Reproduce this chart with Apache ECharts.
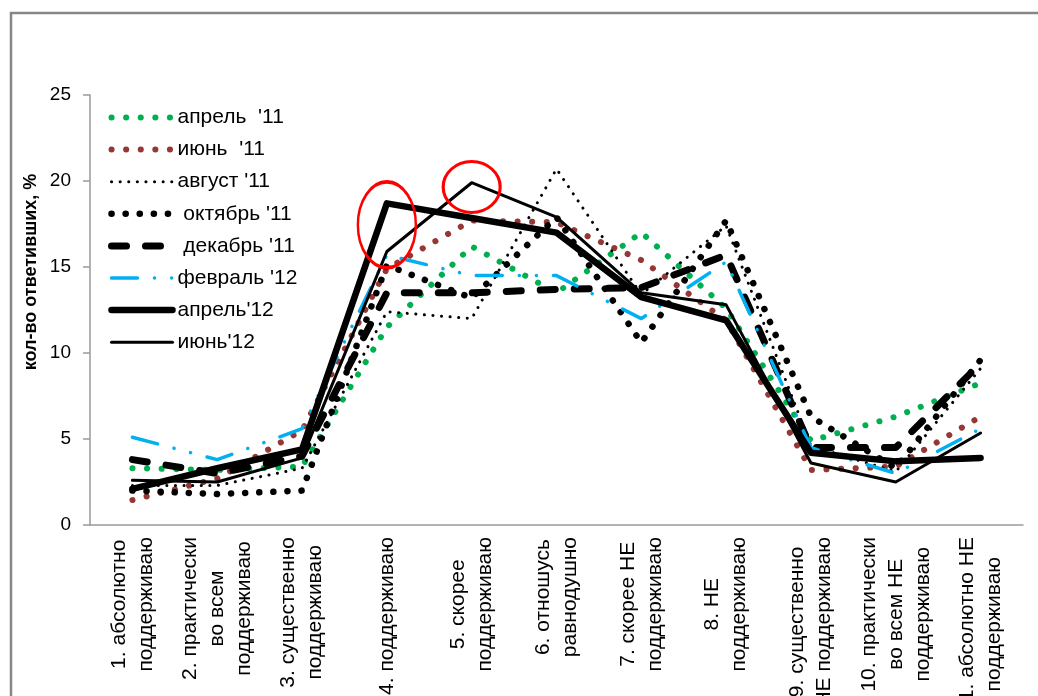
<!DOCTYPE html>
<html>
<head>
<meta charset="utf-8">
<script src="https://cdn.jsdelivr.net/npm/echarts@6/dist/echarts.min.js"></script>
<style>
html,body{margin:0;padding:0;background:#fff;}
#chart{width:1038px;height:696px;}
</style>
</head>
<body>
<div id="chart"></div>
<script>
// ---- data ----
var categories = [
  '1. абсолютно\nподдерживаю',
  '2. практически\nво всем\nподдерживаю',
  '3. существенно\nподдерживаю',
  '4. поддерживаю',
  '5. скорее\nподдерживаю',
  '6. отношусь\nравнодушно',
  '7. скорее НЕ\nподдерживаю',
  '8. НЕ\nподдерживаю',
  '9. существенно\nНЕ поддерживаю',
  '10. практически\nво всем НЕ\nподдерживаю',
  '11. абсолютно НЕ\nподдерживаю'
];
var seriesNames = ["апрель  '11", "июнь  '11", "август '11", " октябрь '11", " декабрь '11", "февраль '12", "апрель'12", "июнь'12"];
var apr11 = [3.3, 3.2, 3.4, 11.5, 16.2, 13.5, 17.0, 12.6, 4.9, 6.3, 8.25];
var jun11 = [1.45, 2.7, 5.5, 14.9, 17.7, 17.6, 15.4, 11.9, 3.2, 3.4, 6.3];
var aug11 = [2.3, 2.3, 3.3, 12.4, 12.0, 20.7, 13.4, 17.4, 4.6, 3.1, 9.1];
var oct11 = [2.0, 1.8, 2.0, 15.1, 13.2, 17.9, 10.6, 17.7, 6.3, 3.3, 9.6];
var dec11 = [3.8, 3.0, 4.0, 13.5, 13.5, 13.7, 13.8, 15.7, 4.5, 4.5, 9.4];
var feb12 = [5.1, 3.8, 5.6, 15.7, 14.5, 14.5, 12.0, 15.3, 4.5, 3.0, 5.6];
var apr12 = [2.1, 3.3, 4.4, 18.7, 17.85, 17.0, 13.25, 11.9, 4.2, 3.7, 3.9];
var jun12 = [2.6, 2.5, 3.9, 15.9, 19.9, 17.9, 13.5, 12.8, 3.6, 2.5, 5.35];
var yTicks = [0, 5, 10, 15, 20, 25];
var yAxisTitle = 'кол-во ответивших, %';
// highlighted points (category index, value) for red ellipses
var highlightApr12 = [3, 17.45];
var highlightJun12 = [4, 19.65];

var FONT = '"Liberation Sans", Arial, sans-serif';

// line styles: [color, width, dash]
var styles = [
  ['#00B050', 6, [0.1, 14.5]],
  ['#953735', 6, [0.1, 14.5]],
  ['#000000', 3, [0.1, 8.5]],
  ['#000000', 6.5, [0.1, 14]],
  ['#000000', 7, [15, 19]],
  ['#00B0F0', 3.5, [26, 17, 0.1, 17, 0.1, 17]],
  ['#000000', 6.5, 'solid'],
  ['#000000', 3, 'solid']
];
var datasets = [apr11, jun11, aug11, oct11, dec11, feb12, apr12, jun12];

function ls(i) {
  return { color: styles[i][0], width: styles[i][1], type: styles[i][2], cap: 'round', join: 'round', opacity: 1 };
}
function ellipse(coord, size) {
  return {
    silent: true, symbol: 'circle', animation: false,
    label: { show: false },
    data: [{ coord: coord, symbolSize: size,
      itemStyle: { color: 'rgba(0,0,0,0)', borderColor: '#FF0000', borderWidth: 3 } }]
  };
}

var series = seriesNames.map(function (name, i) {
  return {
    name: name, type: 'line', data: datasets[i], symbol: 'none', animation: false,
    lineStyle: ls(i),
    itemStyle: { color: styles[i][0] },
    emphasis: { disabled: true }
  };
});
series[6].markPoint = ellipse(highlightApr12, [58, 86]);
series[7].markPoint = ellipse(highlightJun12, [57, 51]);

var legendData = seriesNames.map(function (name, i) {
  return {
    name: name,
    lineStyle: ls(i),
    itemStyle: { color: 'rgba(0,0,0,0)', borderColor: 'rgba(0,0,0,0)', borderWidth: 0 }
  };
});

var chart = echarts.init(document.getElementById('chart'), null, { renderer: 'canvas' });
chart.setOption({
  backgroundColor: '#ffffff',
  animation: false,
  textStyle: { fontFamily: FONT },
  grid: { left: 90, right: 15, top: 95, bottom: 171, containLabel: false, outerBoundsMode: 'none' },
  legend: {
    data: legendData,
    orient: 'vertical',
    left: 108, top: 107, padding: 0,
    itemWidth: 61, itemHeight: 20, itemGap: 11.1,
    itemStyle: { color: 'rgba(0,0,0,0)', borderColor: 'rgba(0,0,0,0)', borderWidth: 0 },
    textStyle: { fontSize: 21, color: '#000', fontFamily: FONT, lineHeight: 20 },
    selectedMode: false
  },
  xAxis: {
    type: 'category',
    data: categories,
    boundaryGap: true,
    axisLine: { show: true, lineStyle: { color: '#9a9a9a', width: 1.5 } },
    axisTick: { show: false },
    splitLine: { show: false },
    axisLabel: {
      interval: 0, rotate: 90, margin: 12, color: '#000',
      formatter: function (v) { return v.split('\n').map(function (l) { return '{c|' + l + '}'; }).join('\n'); },
      rich: { c: { align: 'center', fontSize: 21, lineHeight: 27, color: '#000', fontFamily: FONT } }
    }
  },
  yAxis: {
    type: 'value', min: yTicks[0], max: yTicks[yTicks.length - 1], interval: 5,
    axisLine: { show: true, lineStyle: { color: '#9a9a9a', width: 1.5 } },
    axisTick: { show: true, length: 7, lineStyle: { color: '#9a9a9a', width: 1.5 } },
    splitLine: { show: false },
    axisLabel: { fontSize: 19, color: '#000', margin: 19, fontFamily: FONT }
  },
  graphic: [
    { type: 'rect', z: -10, silent: true, shape: { x: 11, y: 13, width: 1040, height: 700 },
      style: { fill: 'none', stroke: '#868686', lineWidth: 2.5 } },
    { type: 'text', x: 31, y: 272, rotation: Math.PI / 2, silent: true,
      style: { text: yAxisTitle, font: 'bold 18px ' + FONT, fill: '#000', align: 'center', verticalAlign: 'middle' } }
  ],
  series: series
});
</script>
</body>
</html>
